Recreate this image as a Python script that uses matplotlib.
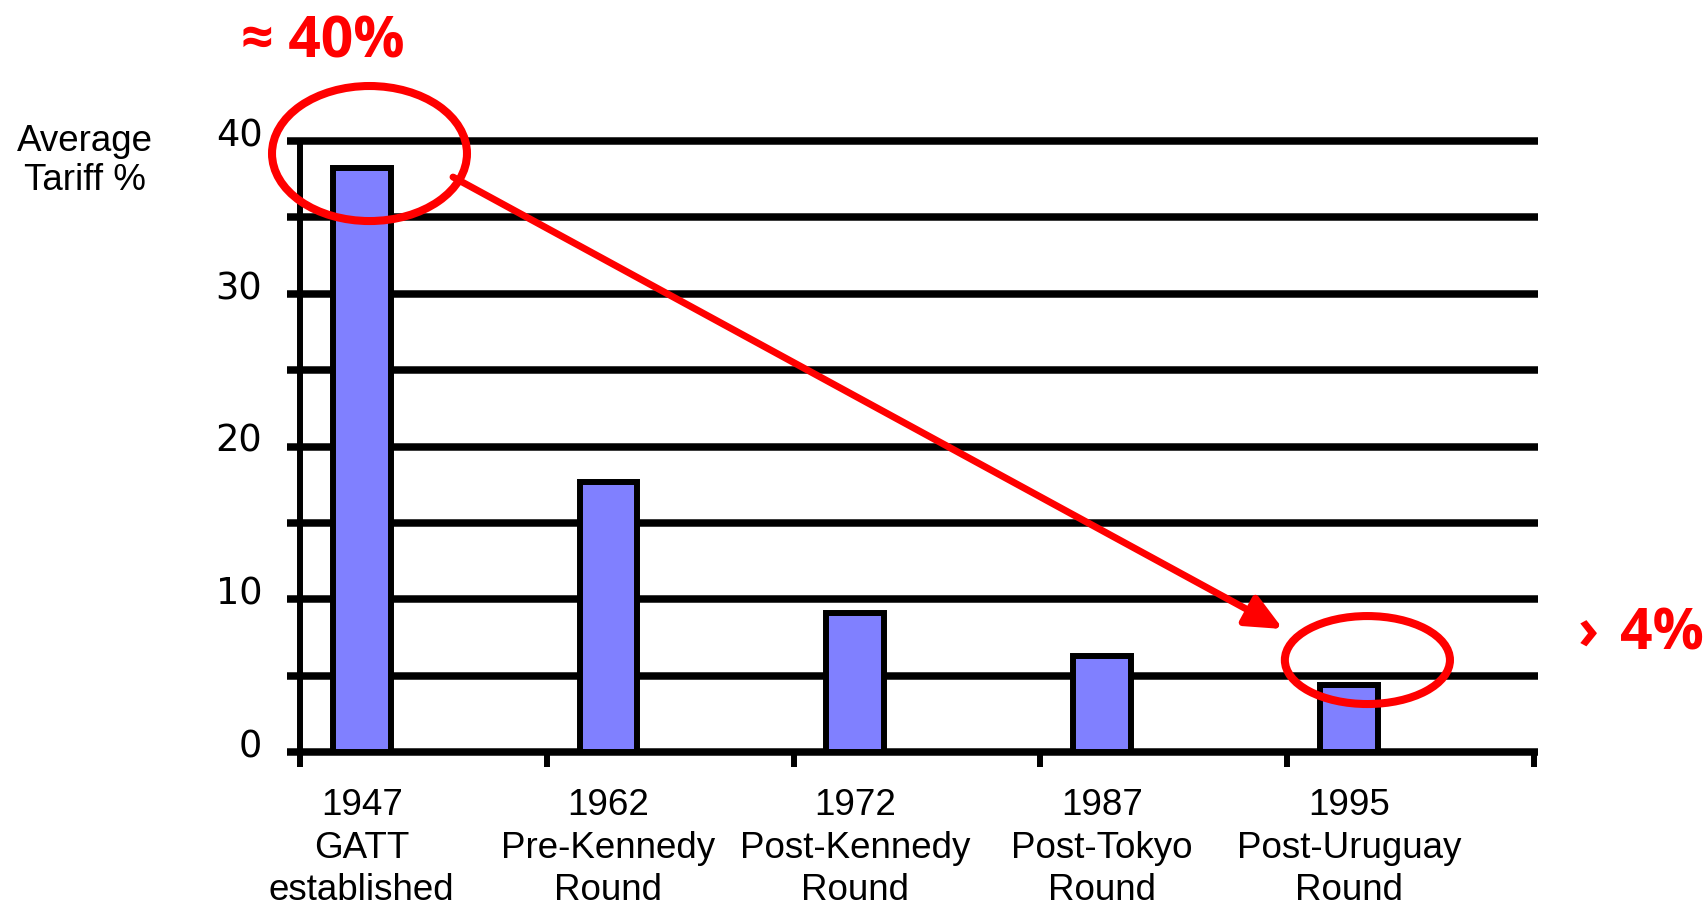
import numpy as np
import matplotlib.pyplot as plt
from matplotlib.patches import Ellipse, FancyArrowPatch
from matplotlib.transforms import ScaledTranslation

# data
years = ["1947", "1962", "1972", "1987", "1995"]
rounds = ["GATT\nestablished", "Pre-Kennedy\nRound", "Post-Kennedy\nRound",
          "Post-Tokyo\nRound", "Post-Uruguay\nRound"]
tariff = [38.2, 17.7, 9.1, 6.3, 4.4]
ytick_vals = [0, 10, 20, 30, 40]

W, H = 1708, 907
fig = plt.figure(figsize=(W / 100, H / 100), dpi=100)
ax = fig.add_axes([300 / W, 1 - 752 / H, 1234 / W, 611 / H])

plt.rcParams['font.family'] = ['Liberation Sans', 'DejaVu Sans']
txt = dict(family=['Liberation Sans', 'DejaVu Sans'], size=26.5, color='black')
red = dict(family=['Open Sans', 'DejaVu Sans'], weight='bold', size=41, color='#ff0000')

x = np.arange(len(years)) + 0.25
ax.bar(x, tariff, width=0.235, color='#8080ff', edgecolor='black', linewidth=4.3, zorder=3)

# thick horizontal rules every 5 %
for lvl in np.arange(0, 45, 5):
    ax.axhline(lvl, xmin=-0.0105, xmax=1.003, color='black', lw=5.4,
               solid_capstyle='butt', clip_on=False, zorder=1)

ax.set_xlim(0, 5)
ax.set_ylim(0, 40)
for s in ['top', 'right', 'bottom']:
    ax.spines[s].set_visible(False)
ax.spines['left'].set_linewidth(4.3)

ax.set_xticks(range(6))
ax.set_xticklabels([])
ax.tick_params(axis='x', which='major', direction='out', length=10.8, width=4.3)
ax.set_xticks(x, [f"{y}\n{r}" for y, r in zip(years, rounds)], minor=True)
ax.tick_params(axis='x', which='minor', length=0, pad=26)
for lbl in ax.get_xticklabels(minor=True):
    lbl.set_fontproperties(txt['family'][0])
    lbl.set_fontsize(txt['size'])
    lbl.set_linespacing(1.28)

ax.set_yticks(ytick_vals)
ax.tick_params(axis='y', length=0, pad=27)
off = ScaledTranslation(0, 0.09, fig.dpi_scale_trans)
for t in ax.yaxis.get_major_ticks():
    t.label1.set_fontsize(txt['size'])
    t.label1.set_transform(t.label1.get_transform() + off)

fig.text(85 / W, 1 - 124 / H, "Average\nTariff %", ha='center', va='top',
         linespacing=1.13, **txt)

# red highlights
ax.add_patch(Ellipse((0.2816, 39.18), 0.79, 8.84, fill=False, ec='#ff0000',
                     lw=5.8, clip_on=False, zorder=5))
ax.add_patch(Ellipse((4.325, 6.02), 0.669, 5.76, fill=False, ec='#ff0000',
                     lw=5.8, clip_on=False, zorder=5))
ax.add_patch(FancyArrowPatch((0.62, 37.64), (3.983, 8.05),
                             arrowstyle='-|>,head_length=1.1,head_width=0.5',
                             mutation_scale=20, color='#ff0000', lw=5,
                             shrinkA=0, shrinkB=0, clip_on=False, zorder=5))

fig.text(323 / W, 1 - 57 / H, "≈ 40%", ha='center', va='baseline', **red)
fig.text(1578 / W, 1 - 650 / H, "›", ha='left', va='baseline', **red)
fig.text(1704 / W, 1 - 650 / H, "4%", ha='right', va='baseline', **red)

fig.savefig("out.png", dpi=100)
